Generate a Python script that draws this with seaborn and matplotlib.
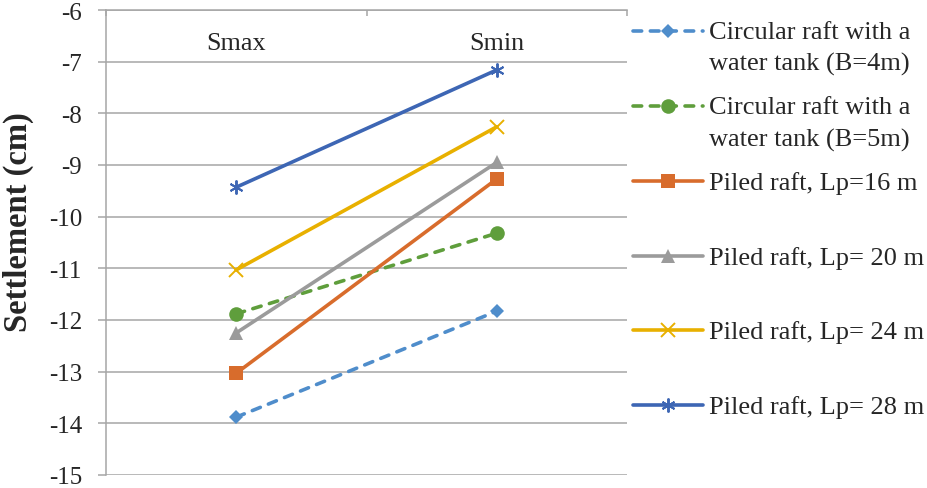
import pandas as pd
import matplotlib
matplotlib.use('Agg')
import matplotlib.pyplot as plt
import seaborn as sns

# Data
cases = ['Circular raft with a\nwater tank (B=4m)',
         'Circular raft with a\nwater tank (B=5m)',
         'Piled raft, Lp=16 m',
         'Piled raft, Lp= 20 m',
         'Piled raft, Lp= 24 m',
         'Piled raft, Lp= 28 m']
positions = ['Smax', 'Smin']
smax = [-13.88, -11.88, -13.03, -12.25, -11.03, -9.43]
smin = [-11.83, -10.32, -9.27, -8.95, -8.26, -7.16]

# Styles
colors = ['#4F8DCB', '#5F9E3C', '#D86C2C', '#9B9B9B', '#E8B000', '#3D66B4']
markers = ['D', 'o', 's', '^', 'x', (6, 2, 0)]
msizes = [7.5, 10.5, 10.5, 10.5, 10, 10]
dash_list = [(2.4, 2.4), (2.4, 2.4), '', '', '', '']

sns.set_style('white')
plt.rcParams['font.family'] = ['Liberation Serif', 'DejaVu Serif']
plt.rcParams['axes.unicode_minus'] = False

rows = []
for c, a, b in zip(cases, smax, smin):
    rows.append({'case': c, 'pos': positions[0], 'settlement': a})
    rows.append({'case': c, 'pos': positions[1], 'settlement': b})
df = pd.DataFrame(rows)

fig = plt.figure(figsize=(9.27, 4.89), dpi=100)
ax = fig.add_axes([106 / 927, 1 - 476 / 489, (627 - 106) / 927, (476 - 11) / 489])

sns.lineplot(data=df, x='pos', y='settlement', hue='case', style='case',
             hue_order=cases, style_order=cases,
             palette=dict(zip(cases, colors)),
             dashes=dict(zip(cases, dash_list)),
             linewidth=2.6, legend=False, ax=ax)

# seaborn will not mix filled and line-art markers, so set them per line
for line, col, ms, mk in zip(ax.lines, colors, msizes, markers):
    line.set_marker(mk)
    line.set_markersize(ms)
    line.set_markeredgecolor(col)
    line.set_markerfacecolor(col)
    line.set_markeredgewidth(1.4 if mk in ('x', (6, 2, 0)) else 0)
    line.set_dash_capstyle('round')
    line.set_solid_capstyle('round')

ax.set_ylim(-15, -6)
ax.set_xlim(-0.5, 1.5)
ax.set_yticks(range(-15, -5))
ax.yaxis.grid(True, color='#A6A6A6', linewidth=1.1)
ax.xaxis.grid(False)

for s in ['bottom', 'right']:
    ax.spines[s].set_visible(False)
for s in ['top', 'left']:
    ax.spines[s].set_color('#A6A6A6')
    ax.spines[s].set_linewidth(1.1)

# category labels sit under the top axis
ax.xaxis.tick_top()
ax.set_xticks([0, 1])
ax.set_xticklabels(positions)
ax.set_xticks([-0.5, 0.5, 1.5], minor=True)
ax.tick_params(axis='x', which='major', length=0, pad=-32, labelsize=18.8)
ax.tick_params(axis='x', which='minor', direction='in', length=4,
               color='#A6A6A6', width=1.1)
ax.tick_params(axis='y', direction='out', length=5.8, width=1.1,
               color='#A6A6A6', pad=11.5, labelsize=18, left=True)
ax.set_xlabel('')
ax.set_ylabel('Settlement (cm)', fontsize=23.5, fontweight='bold')
ax.yaxis.set_label_coords(-0.138, 0.546)

leg_labels = [c if '\n' in c else c + '\n' for c in cases]
leg = ax.legend(handles=ax.lines, labels=leg_labels, loc='upper left',
                bbox_to_anchor=(633 / 927, 1 - 22 / 489),
                bbox_transform=fig.transFigure, frameon=False,
                fontsize=19, handlelength=2.65, handletextpad=0.22,
                handleheight=0.9, borderpad=0, borderaxespad=0,
                labelspacing=0.78, numpoints=1)
for t in leg.get_texts():
    t.set_linespacing(1.53)
for vp in leg._legend_handle_box.get_children():
    for hp in vp.get_children():
        hp.align = 'top'

fig.savefig('out.png', dpi=100)
